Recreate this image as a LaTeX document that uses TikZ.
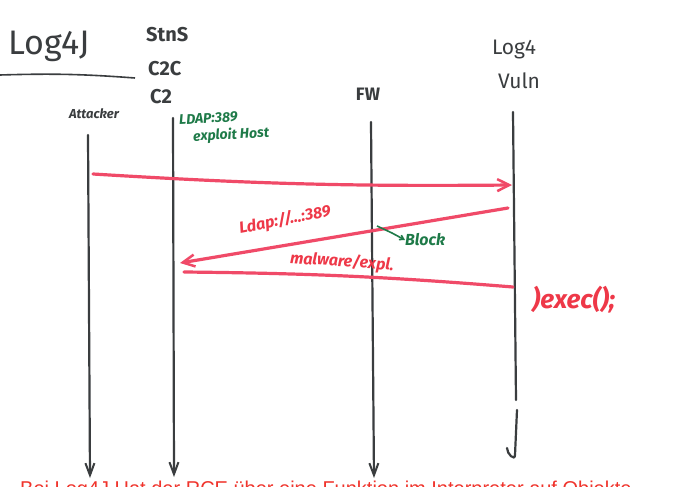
\documentclass[tikz,border=0pt]{standalone}
\usepackage{fontspec}
\setmainfont{Fira Sans}
\newfontfamily\capfont{Liberation Sans}
\usetikzlibrary{arrows.meta}
\definecolor{ink}{HTML}{3A3D3F}
\definecolor{redink}{HTML}{F04A68}
\definecolor{redtxt}{HTML}{EE3848}
\definecolor{greenink}{HTML}{1E7A48}
\definecolor{captred}{HTML}{F0342C}
\tikzset{
  lifeline/.style={draw=ink, line width=2.2pt, line cap=round, -{Straight Barb[length=12pt,width=9pt,line width=2pt]}},
  msg/.style={draw=redink, line width=3.2pt, line cap=round},
  msgarrow/.style={msg, -{Straight Barb[length=12pt,width=12pt,line width=2.5pt]}},
  hand/.style={text=ink, inner sep=0pt},
  lbl/.style={text=redtxt, inner sep=0pt, font=\fontsize{16}{18}\selectfont\bfseries\itshape},
  glbl/.style={text=greenink, inner sep=0pt, font=\fontsize{14}{15}\selectfont\bfseries\itshape}
}
\begin{document}
\begin{tikzpicture}[x=1pt,y=-1pt]
\useasboundingbox (0,0) rectangle (694,487);
\clip (0,0) rectangle (694,487);
\fill[white] (0,0) rectangle (694,487);
% title
\node[hand, font=\fontsize{34}{36}\selectfont, anchor=west] (title) at (8,46) {Log4J};
\coordinate (ulA) at (0,75);
\coordinate (ulB) at (135,78);
\draw[ink, line width=1.6pt] (ulA) to[bend left=3] (ulB);
% stack labels
\node[hand, font=\fontsize{20}{22}\selectfont\bfseries, anchor=west] (stn) at (146,35) {StnS};
\node[hand, font=\fontsize{20}{22}\selectfont\bfseries, anchor=west] (c2c) at (148,69) {C2C};
\node[hand, font=\fontsize{20}{22}\selectfont\bfseries, anchor=west] (c2) at (150,97) {C2};
\node[hand, font=\fontsize{13}{14}\selectfont\bfseries\itshape] (att) at (94,114) {Attacker};
\node[hand, font=\fontsize{18}{20}\selectfont\bfseries] (fw) at (368,94) {FW};
\node[hand, font=\fontsize{21}{23}\selectfont] (log4) at (514,50) {Log4};
\node[hand, font=\fontsize{21}{23}\selectfont] (vuln) at (519,81) {Vuln};
% lifelines
\coordinate (aT) at (88,135);
\coordinate (aB) at (90,478);
\coordinate (cT) at (173,118);
\coordinate (cB) at (174,477);
\coordinate (fT) at (371,122);
\coordinate (fB) at (374,478);
\coordinate (vT) at (513,112);
\coordinate (vB) at (515,455);
\draw[lifeline] (aT) -- (aB);
\draw[lifeline] (cT) -- (cB);
\draw[lifeline] (fT) -- (fB);
\draw[ink, line width=2.2pt, line cap=round] (vT) -- (516,400);
\draw[ink, line width=2.2pt, line cap=round] (517,410) -- (515,455) to[out=270,in=270,looseness=1.5] (507,448);
% green label
\node[glbl, anchor=west, rotate=3] (ldap1) at (179,120) {LDAP:389};
\node[glbl, anchor=west, rotate=3] (ldap2) at (193,137) {exploit Host};
% message 1
\coordinate (m1s) at (93,174);
\coordinate (m1e) at (512,185);
\draw[msgarrow] (m1s) to[bend right=2] (m1e);
% message 2
\coordinate (m2s) at (508,208);
\coordinate (m2e) at (180,263);
\draw[msgarrow] (m2s) -- (m2e);
\node[lbl, rotate=11] (m2l) at (285,220) {Ldap://...:389};
% block
\coordinate (bS) at (377,226);
\node[glbl, anchor=west, font=\fontsize{16}{17}\selectfont\bfseries\itshape] (block) at (405,240) {Block};
\draw[greenink, line width=1.6pt, -{Straight Barb[length=4pt,width=5pt]}] (bS) -- (392,233) -- (block.west);
% message 3
\coordinate (m3s) at (184,272);
\coordinate (m3e) at (513,287);
\draw[msg] (m3s) to[bend left=2] (m3e);
\node[lbl, rotate=-4] (m3l) at (342,262) {malware/expl.};
% exec
\node[text=redtxt, inner sep=0pt, font=\fontsize{26}{28}\selectfont\bfseries\itshape, anchor=west] (exec) at (532,300) {)exec();};
% caption (clipped by the page edge, as in the reference)
\node[text=captred, inner sep=0pt, anchor=base west, font=\capfont\fontsize{20}{22}\selectfont] (cap) at (20,495) {Bei Log4J Hat der RCE über eine Funktion im Interpreter auf Objekte};
\end{tikzpicture}
\end{document}
